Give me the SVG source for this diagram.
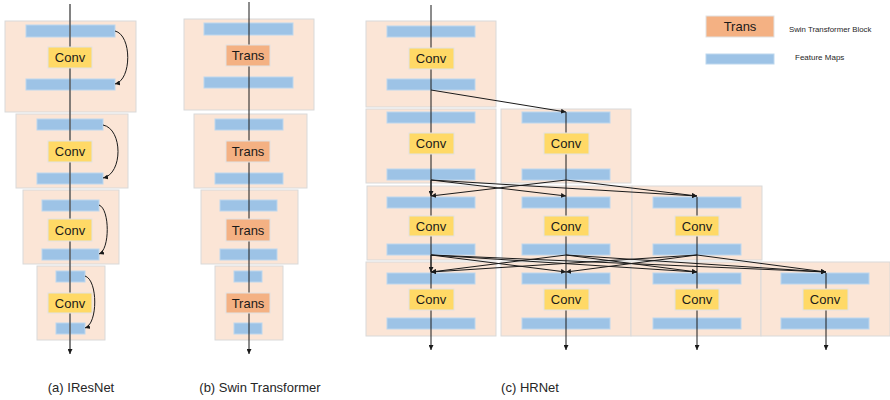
<svg xmlns="http://www.w3.org/2000/svg" width="890" height="400" viewBox="0 0 890 400">
<style>
.blk{fill:#FBE5D6;stroke:#D9D9D9;stroke-width:1}
.fm{fill:#9DC3E6;stroke:#BDD7EE;stroke-width:1}
.conv{fill:#FFD966;stroke:#E2E2E2;stroke-width:1}
.trans{fill:#F4B183;stroke:#E2E2E2;stroke-width:1}
.t{font-family:"Liberation Sans",Arial,sans-serif;font-size:13px;fill:#1a1a1a;text-anchor:middle;dominant-baseline:central}
.lbl{font-family:"Liberation Sans",Arial,sans-serif;font-size:13px;fill:#262626;text-anchor:middle}
.lg{font-family:"Liberation Sans",Arial,sans-serif;fill:#262626}
.ln{fill:none;stroke:#1a1a1a;stroke-width:1}
.lna{fill:none;stroke:#595959;stroke-width:1.5}
</style>
<defs>
<marker id="ah" viewBox="0 0 6 6" refX="6" refY="3" markerWidth="5" markerHeight="5" markerUnits="userSpaceOnUse" orient="auto">
<path d="M0,0 L6,3 L0,6 z" fill="#1a1a1a"/>
</marker>
</defs>

<!-- (a) IResNet blocks -->
<g id="a-block1"><rect class="blk" x="5" y="21" width="131" height="91"/><rect class="fm" x="26" y="25" width="89" height="12"/><rect class="fm" x="26" y="79" width="89" height="11"/></g>
<g id="a-block2"><rect class="blk" x="16" y="114" width="112" height="74"/><rect class="fm" x="37" y="119" width="66" height="11"/><rect class="fm" x="37" y="173" width="66" height="11"/></g>
<g id="a-block3"><rect class="blk" x="23" y="190" width="96" height="74"/><rect class="fm" x="42" y="200" width="57" height="11"/><rect class="fm" x="42" y="249" width="57" height="11"/></g>
<g id="a-block4"><rect class="blk" x="37" y="266" width="68" height="74"/><rect class="fm" x="56" y="271" width="29" height="11"/><rect class="fm" x="56" y="323" width="29" height="11"/></g>

<!-- (b) Swin blocks -->
<g id="b-block1"><rect class="blk" x="184" y="19" width="130" height="91"/><rect class="fm" x="204" y="23" width="89" height="12"/><rect class="fm" x="204" y="77" width="89" height="11"/></g>
<g id="b-block2"><rect class="blk" x="194" y="114" width="113" height="74"/><rect class="fm" x="215" y="119" width="68" height="11"/><rect class="fm" x="215" y="173" width="68" height="11"/></g>
<g id="b-block3"><rect class="blk" x="201" y="190" width="97" height="74"/><rect class="fm" x="220" y="200" width="57" height="11"/><rect class="fm" x="220" y="249" width="57" height="11"/></g>
<g id="b-block4"><rect class="blk" x="215" y="266" width="68" height="74"/><rect class="fm" x="234" y="271" width="28" height="11"/><rect class="fm" x="234" y="323" width="28" height="11"/></g>

<!-- (c) HRNet blocks -->
<g id="c-r1c1"><rect class="blk" x="366" y="21" width="130" height="86"/><rect class="fm" x="387" y="26" width="88" height="11"/><rect class="fm" x="387" y="79" width="88" height="11"/></g>
<g id="c-r2c1"><rect class="blk" x="366" y="109" width="130" height="74"/><rect class="fm" x="387" y="112" width="88" height="11"/><rect class="fm" x="387" y="169" width="88" height="11"/></g>
<g id="c-r2c2"><rect class="blk" x="501" y="109" width="130" height="74"/><rect class="fm" x="522" y="112" width="88" height="11"/><rect class="fm" x="522" y="169" width="88" height="11"/></g>
<g id="c-r3c1"><rect class="blk" x="367" y="186" width="129" height="74"/><rect class="fm" x="387" y="197" width="88" height="11"/><rect class="fm" x="387" y="244" width="88" height="11"/></g>
<g id="c-r3c2"><rect class="blk" x="502" y="186" width="130" height="74"/><rect class="fm" x="522" y="197" width="88" height="11"/><rect class="fm" x="522" y="244" width="88" height="11"/></g>
<g id="c-r3c3"><rect class="blk" x="632" y="186" width="130" height="74"/><rect class="fm" x="653" y="197" width="88" height="11"/><rect class="fm" x="653" y="244" width="88" height="11"/></g>
<g id="c-r4c1"><rect class="blk" x="366" y="262" width="130" height="74"/><rect class="fm" x="387" y="273" width="88" height="11"/><rect class="fm" x="387" y="318" width="88" height="11"/></g>
<g id="c-r4c2"><rect class="blk" x="501" y="262" width="130" height="74"/><rect class="fm" x="522" y="273" width="88" height="11"/><rect class="fm" x="522" y="318" width="88" height="11"/></g>
<g id="c-r4c3"><rect class="blk" x="631" y="262" width="130" height="74"/><rect class="fm" x="653" y="273" width="88" height="11"/><rect class="fm" x="653" y="318" width="88" height="11"/></g>
<g id="c-r4c4"><rect class="blk" x="761" y="262" width="129" height="74"/><rect class="fm" x="781" y="273" width="88" height="11"/><rect class="fm" x="781" y="318" width="88" height="11"/></g>

<!-- connectors -->
<g id="connectors">
<line class="lna" x1="70" y1="4" x2="70" y2="354" marker-end="url(#ah)"/>
<path class="ln" d="M115,31 C132,35 132,80 115,84" marker-end="url(#ah)"/>
<path class="ln" d="M103,125 C123,129 123,174 103,178" marker-end="url(#ah)"/>
<path class="ln" d="M99,205 C110,209 110,250 99,254" marker-end="url(#ah)"/>
<path class="ln" d="M85,276 C98,280 98,324 85,328" marker-end="url(#ah)"/>

<line class="ln" x1="249" y1="2" x2="249" y2="354" marker-end="url(#ah)"/>

<line class="ln" x1="431" y1="5" x2="431" y2="350" marker-end="url(#ah)"/>
<line class="ln" x1="566" y1="112" x2="566" y2="350" marker-end="url(#ah)"/>
<line class="ln" x1="697" y1="197" x2="697" y2="350" marker-end="url(#ah)"/>
<line class="ln" x1="826" y1="273" x2="826" y2="350" marker-end="url(#ah)"/>

<line class="ln" x1="431" y1="90" x2="566" y2="112" marker-end="url(#ah)"/>

<line class="ln" x1="431" y1="180" x2="431" y2="196" marker-end="url(#ah)"/>
<line class="ln" x1="431" y1="180" x2="566" y2="196" marker-end="url(#ah)"/>
<line class="ln" x1="431" y1="180" x2="697" y2="196" marker-end="url(#ah)"/>
<line class="ln" x1="566" y1="180" x2="431" y2="196" marker-end="url(#ah)"/>
<line class="ln" x1="566" y1="180" x2="697" y2="196" marker-end="url(#ah)"/>

<line class="ln" x1="431" y1="255" x2="431" y2="272" marker-end="url(#ah)"/>
<line class="ln" x1="431" y1="255" x2="566" y2="272" marker-end="url(#ah)"/>
<line class="ln" x1="431" y1="255" x2="697" y2="272" marker-end="url(#ah)"/>
<line class="ln" x1="431" y1="255" x2="826" y2="272" marker-end="url(#ah)"/>
<line class="ln" x1="566" y1="255" x2="431" y2="272" marker-end="url(#ah)"/>
<line class="ln" x1="566" y1="255" x2="697" y2="272" marker-end="url(#ah)"/>
<line class="ln" x1="566" y1="255" x2="826" y2="272" marker-end="url(#ah)"/>
<line class="ln" x1="697" y1="255" x2="431" y2="272" marker-end="url(#ah)"/>
<line class="ln" x1="697" y1="255" x2="566" y2="272" marker-end="url(#ah)"/>
<line class="ln" x1="697" y1="255" x2="826" y2="272" marker-end="url(#ah)"/>
</g>

<!-- conv / trans nodes -->
<g id="a-conv1"><rect class="conv" x="48" y="47" width="44" height="21"/><text class="t" x="70" y="57.5">Conv</text></g>
<g id="a-conv2"><rect class="conv" x="48" y="141" width="44" height="21"/><text class="t" x="70" y="151.5">Conv</text></g>
<g id="a-conv3"><rect class="conv" x="48" y="219" width="44" height="22"/><text class="t" x="70" y="230">Conv</text></g>
<g id="a-conv4"><rect class="conv" x="48" y="293" width="44" height="20"/><text class="t" x="70" y="303">Conv</text></g>

<g id="b-trans1"><rect class="trans" x="226" y="45" width="44" height="21"/><text class="t" x="248" y="55.5">Trans</text></g>
<g id="b-trans2"><rect class="trans" x="226" y="141" width="44" height="21"/><text class="t" x="248" y="151.5">Trans</text></g>
<g id="b-trans3"><rect class="trans" x="226" y="219" width="44" height="22"/><text class="t" x="248" y="230">Trans</text></g>
<g id="b-trans4"><rect class="trans" x="226" y="293" width="44" height="20"/><text class="t" x="248" y="303">Trans</text></g>

<g id="c-conv-r1c1"><rect class="conv" x="409" y="48" width="45" height="21"/><text class="t" x="431" y="58.5">Conv</text></g>
<g id="c-conv-r2c1"><rect class="conv" x="409" y="133" width="45" height="21"/><text class="t" x="431" y="143.5">Conv</text></g>
<g id="c-conv-r2c2"><rect class="conv" x="544" y="133" width="45" height="21"/><text class="t" x="566" y="143.5">Conv</text></g>
<g id="c-conv-r3c1"><rect class="conv" x="409" y="216" width="45" height="20"/><text class="t" x="431" y="226">Conv</text></g>
<g id="c-conv-r3c2"><rect class="conv" x="544" y="216" width="45" height="20"/><text class="t" x="566" y="226">Conv</text></g>
<g id="c-conv-r3c3"><rect class="conv" x="675" y="216" width="44" height="20"/><text class="t" x="697" y="226">Conv</text></g>
<g id="c-conv-r4c1"><rect class="conv" x="409" y="289" width="45" height="21"/><text class="t" x="431" y="299.5">Conv</text></g>
<g id="c-conv-r4c2"><rect class="conv" x="544" y="289" width="45" height="21"/><text class="t" x="566" y="299.5">Conv</text></g>
<g id="c-conv-r4c3"><rect class="conv" x="675" y="289" width="44" height="21"/><text class="t" x="697" y="299.5">Conv</text></g>
<g id="c-conv-r4c4"><rect class="conv" x="803" y="289" width="45" height="21"/><text class="t" x="825" y="299.5">Conv</text></g>

<!-- legend -->
<g id="legend-trans"><rect class="trans" x="706" y="16" width="68" height="21"/><text class="t" x="740" y="26.5">Trans</text><text class="lg" x="789" y="32" font-size="7.8">Swin Transformer Block</text></g>
<g id="legend-fm"><rect class="fm" x="706" y="54" width="68" height="10"/><text class="lg" x="795" y="60" font-size="8">Feature Maps</text></g>

<!-- captions -->
<text class="lbl" x="81" y="392">(a) IResNet</text>
<text class="lbl" x="260" y="392">(b) Swin Transformer</text>
<text class="lbl" x="530" y="392">(c) HRNet</text>
</svg>
